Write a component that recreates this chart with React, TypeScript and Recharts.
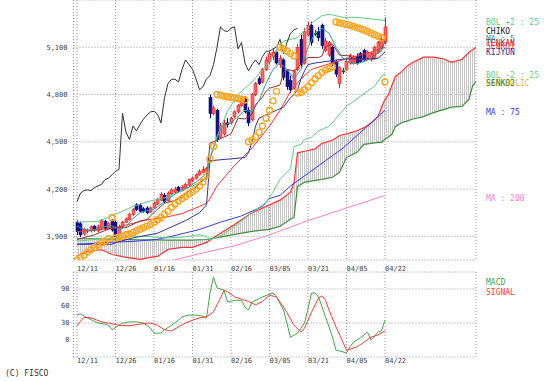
import { ComposedChart, Line, Area, Bar, Scatter, XAxis, YAxis, CartesianGrid } from 'recharts';

const FONT = '"DejaVu Sans Mono", monospace';

// x axis labels, placed every 11 sessions
const dates = ['12/11', '12/26', '01/16', '01/31', '02/16', '03/05', '03/21', '04/05', '04/22'];
const dateIdx = [0, 11, 22, 33, 44, 55, 66, 77, 88];
const priceTicks = [3900, 4200, 4500, 4800, 5100];
const macdTicks = [0, 30, 60, 90];

// daily candles: open, high, low, close
const candles: [number, number, number, number][] = [
  [3990, 4000, 3910, 3930], [3980, 3995, 3895, 3910], [3915, 3955, 3905, 3945], [3935, 3950, 3920, 3940],
  [3935, 3970, 3925, 3960], [3965, 3972, 3930, 3940], [3935, 3975, 3925, 3960], [3950, 4010, 3945, 4000],
  [3995, 4005, 3940, 3950], [3950, 3990, 3945, 3980], [4000, 4010, 3930, 3940], [3990, 4000, 3885, 3900],
  [3910, 3975, 3900, 3960], [3960, 4000, 3950, 3990], [3990, 4020, 3985, 4010], [4005, 4050, 4000, 4040],
  [4040, 4080, 4030, 4070], [4100, 4110, 4060, 4070], [4095, 4110, 4050, 4060], [4075, 4085, 4050, 4060],
  [4080, 4090, 4040, 4050], [4055, 4090, 4050, 4080], [4080, 4120, 4075, 4110], [4105, 4145, 4100, 4135],
  [4130, 4180, 4125, 4165], [4160, 4175, 4110, 4120], [4125, 4185, 4120, 4175], [4170, 4205, 4165, 4195],
  [4180, 4215, 4175, 4200], [4210, 4220, 4180, 4190], [4190, 4225, 4185, 4210], [4205, 4240, 4200, 4230],
  [4225, 4265, 4220, 4260], [4255, 4280, 4245, 4270], [4270, 4300, 4260, 4290], [4290, 4325, 4285, 4313],
  [4305, 4345, 4300, 4325], [4310, 4340, 4300, 4330], [4780, 4800, 4650, 4680], [4680, 4730, 4670, 4715],
  [4700, 4710, 4500, 4515], [4530, 4620, 4520, 4600], [4550, 4640, 4540, 4620], [4620, 4650, 4590, 4610],
  [4620, 4660, 4610, 4650], [4660, 4700, 4650, 4690], [4690, 4740, 4680, 4730], [4730, 4780, 4720, 4760],
  [4770, 4790, 4680, 4690], [4700, 4720, 4600, 4620], [4640, 4810, 4630, 4800], [4800, 4880, 4790, 4870],
  [4900, 4915, 4860, 4870], [4880, 4970, 4870, 4960], [4960, 5040, 4950, 5020], [5010, 5080, 4990, 5060],
  [5040, 5090, 5020, 5070], [5070, 5080, 4990, 5000], [4990, 5050, 4970, 5030], [5020, 5030, 4890, 4910],
  [4950, 4960, 4830, 4850], [4890, 4920, 4810, 4830], [4840, 4960, 4830, 4950], [4960, 5120, 4950, 5100],
  [5150, 5180, 4970, 4990], [5000, 5220, 4990, 5200], [5180, 5260, 5170, 5240], [5240, 5260, 5110, 5130],
  [5190, 5210, 5170, 5190], [5200, 5230, 5140, 5160], [5240, 5250, 5090, 5110], [5080, 5160, 5070, 5140],
  [5050, 5140, 5040, 5130], [5100, 5110, 4980, 4990], [5010, 5020, 4910, 4930], [4870, 4980, 4840, 4970],
  [4950, 4970, 4930, 4950], [4960, 5030, 4950, 5010], [5000, 5060, 4990, 5050], [5000, 5050, 4990, 5040],
  [5040, 5060, 4990, 5000], [5060, 5070, 5000, 5010], [5080, 5090, 5010, 5020], [5030, 5080, 5020, 5070],
  [5020, 5070, 5010, 5060], [5030, 5110, 5020, 5100], [5070, 5140, 5060, 5130], [5100, 5170, 5090, 5150],
  [5130, 5290, 5120, 5230],
];

// lagging span, starts at the first session
const chiko = [
  4120, 4175, 4190, 4195, 4190, 4210, 4220, 4230, 4260, 4270, 4290, 4313, 4325, 4680, 4560, 4515,
  4600, 4570, 4610, 4645, 4670, 4690, 4694, 4675, 4620, 4780, 4870, 4897, 4897, 4880, 4960, 5020,
  4990, 4960, 4900, 4830, 4850, 4900, 4920, 4990, 5100, 5230, 5205, 5200, 5220, 5230, 5090, 5130,
  5000, 4950, 4990, 5020, 4990, 5040, 5075, 5075, 5090, 5100, 5150, 5060, 5130, 5190, 5210, 5220,
];

const parabolic = [
  3750, 3765, 3780, 3800, 3815, 3830, 3845, 3860, 3870, 3885, 4020, 3890, 3895, 3900, 3910, 3915,
  3925, 3935, 3945, 3955, 3965, 3975, 3990, 4005, 4020, 4040, 4060, 4085, 4105, 4125, 4140, 4155,
  4170, 4185, 4200, 4220, 4245, 4290, 4390, 4470, 4800, 4795, 4790, 4786, 4782, 4778, 4774, 4770,
  4765, 4500, 4510, 4530, 4560, 4600, 4650, 4700, 4760, 4820, 5100, 5090, 5075, 5060, 5045, 4810,
  4815, 4830, 4850, 4875, 4900, 4920, 4940, 4955, 4965, 4975, 5260, 5255, 5250, 5245, 5240, 5232,
  5225, 5218, 5210, 5200, 5190, 5180, 5170, 5160, 4880,
];

// line vertices as [session, value]
const bolUp: [number, number][] = [
  [0, 3990], [6, 3995], [11, 4040], [16, 4090], [21, 4125], [26, 4150], [31, 4200], [36, 4250], [37, 4270],
  [38, 4400], [39, 4470], [40, 4535], [43, 4695], [46, 4800], [50, 4880], [54, 4980], [58, 5105], [59, 5140],
  [63, 5160], [66, 5230], [68, 5270], [70, 5300], [72, 5310], [76, 5290], [80, 5290], [84, 5280], [88, 5270],
];
const bolDn: [number, number][] = [
  [0, 3870], [5, 3880], [10, 3890], [15, 3900], [20, 3900], [25, 3890], [30, 3895], [35, 3910], [37, 3900],
  [38, 3880], [41, 3900], [45, 3965], [50, 4050], [54, 4116], [56, 4180], [58, 4262], [61, 4330], [62, 4470],
  [64, 4484], [65, 4516], [67, 4529], [69, 4570], [72, 4598], [77, 4725], [81, 4789], [85, 4852], [87, 4916],
  [88, 4929],
];
const ma25: [number, number][] = [
  [0, 3930], [10, 3950], [20, 4005], [25, 4020], [30, 4045], [35, 4090], [37, 4110], [38, 4140], [40, 4220],
  [45, 4350], [50, 4460], [55, 4600], [58, 4700], [61, 4820], [64, 4900], [67, 4960], [72, 4995], [76, 5020],
  [80, 5045], [84, 5070], [88, 5100],
];
const ma5: [number, number][] = [
  [0, 3965], [2, 3945], [4, 3937], [6, 3949], [8, 3962], [10, 3966], [12, 3946], [14, 3960], [16, 4014],
  [18, 4050], [20, 4062], [22, 4072], [24, 4104], [26, 4138], [28, 4168], [30, 4192], [32, 4213], [34, 4244],
  [36, 4280], [37, 4300], [38, 4390], [39, 4460], [40, 4520], [41, 4580], [42, 4610], [44, 4620], [46, 4660],
  [48, 4700], [50, 4690], [52, 4760], [54, 4870], [56, 4960], [58, 5000], [60, 4960], [62, 4900], [64, 4960],
  [66, 5100], [68, 5190], [70, 5220], [72, 5190], [74, 5100], [76, 5030], [78, 5000], [80, 4995], [82, 5010],
  [84, 5030], [86, 5070], [88, 5130],
];
const tenkan: [number, number][] = [
  [0, 3880], [5, 3910], [10, 3955], [14, 3955], [18, 3998], [20, 4005], [21, 4030], [23, 4072], [25, 4110],
  [28, 4128], [30, 4150], [32, 4188], [34, 4210], [36, 4260], [37, 4262], [38, 4492], [40, 4510], [42, 4530],
  [44, 4550], [46, 4650], [48, 4645], [50, 4675], [51, 4735], [53, 4785], [54, 4820], [55, 4840], [58, 4860],
  [59, 4940], [60, 4960], [62, 4950], [63, 4965], [64, 4995], [66, 5035], [69, 5035], [70, 5045], [71, 5105],
  [73, 5120], [74, 5085], [75, 5050], [78, 5045], [79, 5020], [83, 5020], [84, 5030], [86, 5065], [87, 5080],
  [88, 5140],
];
const kijun: [number, number][] = [
  [0, 3850], [10, 3850], [11, 3860], [16, 3890], [23, 3920], [31, 4000], [35, 4050], [37, 4100], [38, 4380],
  [48, 4400], [49, 4430], [50, 4500], [51, 4600], [52, 4650], [56, 4690], [59, 4720], [61, 4780], [62, 4800],
  [63, 4830], [64, 4900], [65, 4950], [66, 4990], [68, 5000], [76, 5025], [86, 5030], [87, 5050], [88, 5070],
];
const ma75: [number, number][] = [
  [0, 3850], [9, 3862], [16, 3868], [23, 3881], [27, 3900], [35, 3944], [41, 3990], [47, 4030], [53, 4090],
  [55, 4140], [58, 4160], [61, 4220], [66, 4300], [71, 4380], [76, 4460], [80, 4540], [84, 4620], [88, 4700],
];
const ma200: [number, number][] = [
  [26, 3740], [35, 3790], [45, 3840], [55, 3910], [66, 4000], [77, 4080], [88, 4160],
];

// ichimoku cloud, drawn 26 sessions ahead
const senkouIdx = [
  0, 3, 7, 10, 14, 18, 21, 23, 26, 30, 33, 37, 41, 45, 50, 55, 58, 61, 62, 63, 65, 68, 70, 73, 75, 77, 80,
  82, 84, 86, 87, 88, 89, 90, 91, 93, 94, 96, 99, 102, 105, 107, 110, 112, 113, 114,
];
const senkou1 = [
  3775, 3805, 3815, 3785, 3767, 3754, 3767, 3773, 3817, 3830, 3830, 3862, 3920, 3975, 4050, 4100, 4130,
  4180, 4240, 4430, 4440, 4455, 4490, 4510, 4540, 4550, 4570, 4590, 4620, 4660, 4720, 4770, 4800, 4860,
  4915, 4950, 4975, 5005, 5037, 5037, 5024, 5005, 5024, 5068, 5085, 5100,
];
const senkou2 = [
  3885, 3885, 3885, 3883, 3880, 3878, 3878, 3878, 3876, 3876, 3876, 3880, 3895, 3913, 3932, 3944, 3964,
  4008, 4020, 4215, 4243, 4255, 4262, 4275, 4306, 4400, 4433, 4484, 4490, 4497, 4497, 4516, 4530, 4548,
  4598, 4624, 4630, 4645, 4660, 4687, 4706, 4720, 4725, 4770, 4852, 4884,
];

const macd: [number, number][] = [
  [0, 44], [1, 46], [3, 39], [6, 30], [8, 28], [9, 26], [10, 18], [12, 26], [13, 30], [15, 32], [17, 32],
  [19, 30], [21, 21], [22, 12], [24, 12], [25, 18], [27, 26], [29, 35], [30, 41], [32, 44], [34, 44], [36, 42],
  [37, 39], [38, 83], [39, 111], [40, 92], [42, 88], [43, 67], [45, 70], [47, 70], [48, 58], [49, 53], [50, 67],
  [53, 76], [56, 83], [57, 76], [59, 53], [61, 5], [63, 12], [65, 30], [66, 55], [67, 83], [68, 83], [69, 76],
  [71, 41], [72, 23], [73, 5], [74, -18], [76, -21], [77, -23], [78, -12], [79, -4], [81, 4], [83, 14], [84, 0],
  [86, 14], [87, 16], [88, 35],
];
const signal: [number, number][] = [
  [0, 25], [1, 33], [2, 40], [4, 39], [7, 32], [9, 30], [12, 26], [15, 25], [18, 28], [21, 30], [23, 26],
  [25, 18], [27, 16], [29, 23], [31, 30], [33, 35], [35, 39], [37, 41], [38, 45], [39, 50], [40, 62], [41, 74],
  [42, 88], [43, 85], [45, 76], [47, 72], [49, 68], [51, 62], [53, 68], [55, 79], [57, 76], [59, 58], [60, 48],
  [62, 26], [64, 14], [65, 21], [67, 49], [69, 74], [70, 78], [71, 70], [72, 53], [74, 23], [76, -4], [77, -18],
  [80, -12], [82, -4], [84, 5], [86, 9], [88, 16],
];

const legend = [
  { t: 'BOL +2 : 25', c: '#5ccf85', y: 25 },
  { t: 'CHIKO', c: '#222222', y: 34 },
  { t: 'MA : 5', c: '#2f9f9f', y: 42 },
  { t: 'TENKAN', c: '#993333', y: 46 },
  { t: 'SENKO1', c: '#ff3333', y: 49 },
  { t: 'KIJYUN', c: '#333399', y: 55 },
  { t: 'BOL -2 : 25', c: '#5ccf85', y: 78 },
  { t: 'PARABOLIC', c: '#ffaa33', y: 86 },
  { t: 'SENKO2', c: '#3c8f3c', y: 86 },
  { t: 'MA : 75', c: '#3a3aff', y: 115 },
  { t: 'MA : 200', c: '#ff80c8', y: 201 },
  { t: 'MACD', c: '#44a844', y: 285 },
  { t: 'SIGNAL', c: '#ff3b3b', y: 295 },
];

type Row = { i: number; [k: string]: number | undefined };

const rows: Row[] = Array.from({ length: 115 }, (_, i) => ({ i }));
candles.forEach(([o, h, l, c], i) => Object.assign(rows[i], { o, h, l, c }));
chiko.forEach((v, j) => (rows[j].chiko = v));
senkouIdx.forEach((k, n) => {
  rows[k].s1 = senkou1[n];
  rows[k].s2 = senkou2[n];
});
const put = (list: Row[], key: string, pts: [number, number][]) => pts.forEach(([i, v]) => (list[i][key] = v));
put(rows, 'bolUp', bolUp);
put(rows, 'bolDn', bolDn);
put(rows, 'ma25', ma25);
put(rows, 'ma5', ma5);
put(rows, 'tenkan', tenkan);
put(rows, 'kijun', kijun);
put(rows, 'ma75', ma75);
put(rows, 'ma200', ma200);

const sarRows = parabolic.map((v, i) => ({ i, sar: v }));

const macdRows: Row[] = Array.from({ length: 89 }, (_, i) => ({ i }));
put(macdRows, 'macd', macd);
put(macdRows, 'signal', signal);

const Candle = (props: any) => {
  const { x, y, width, height, payload } = props;
  if (!payload || payload.o == null) return null;
  const { o, h, l, c } = payload;
  const top = Math.min(y, y + height);
  const span = Math.abs(height);
  const py = (v: number) => top + ((h - v) / (h - l)) * span;
  const flat = c === o;
  const up = c > o;
  const stroke = flat ? '#006600' : up ? '#e82020' : '#000080';
  const fill = flat ? '#006600' : up ? '#ff6464' : '#14148c';
  const cx = Math.round(x + width / 2) + 0.5;
  const bt = py(Math.max(o, c));
  const bb = py(Math.min(o, c));
  return (
    <g>
      <line x1={cx} x2={cx} y1={top} y2={top + span} stroke={stroke} strokeWidth={1} />
      <rect x={cx - 1.5} y={bt} width={3} height={Math.max(bb - bt, 1)} fill={fill} stroke={stroke} strokeWidth={0.6} />
    </g>
  );
};

const Ring = (props: any) => (
  <circle cx={props.cx} cy={props.cy} r={3} fill="none" stroke="#ffa31a" strokeWidth={1.4} />
);

const dateTick = (dy: number) => (props: any) => {
  const { x, y, payload } = props;
  return (
    <text x={x} y={y + dy} fontSize={7} fontFamily={FONT} fill="#444">
      {dates[dateIdx.indexOf(payload.value)]}
    </text>
  );
};

const line = (key: string, color: string, width = 1) => (
  <Line
    key={key}
    dataKey={key}
    stroke={color}
    strokeWidth={width}
    dot={false}
    connectNulls
    isAnimationActive={false}
    type="linear"
  />
);

export default function App() {
  return (
    <div style={{ position: 'absolute', left: 0, top: 0, width: 557, height: 381, background: '#fff' }}>
      <div style={{ position: 'absolute', left: 0, top: 0 }}>
        <ComposedChart width={557} height={275} data={rows} margin={{ top: 0, right: 81, bottom: 0, left: 0 }}>
          <defs>
            <pattern id="hatch" width="2" height="4" patternUnits="userSpaceOnUse">
              <rect x="0" y="0" width="1" height="4" fill="#c4c4c4" />
            </pattern>
          </defs>
          <CartesianGrid stroke="#999" strokeDasharray="1 2" />
          <XAxis
            type="number"
            dataKey="i"
            domain={[-1, 114]}
            ticks={dateIdx}
            allowDataOverflow
            axisLine={false}
            tickLine={false}
            tickSize={0}
            tickMargin={0}
            height={15}
            tick={dateTick(11)}
            interval={0}
          />
          <YAxis
            domain={[3750, 5400]}
            ticks={priceTicks}
            allowDataOverflow
            axisLine={false}
            tickLine={false}
            tickSize={0}
            tickMargin={6}
            width={73.5}
            tick={{ fontSize: 7, fontFamily: FONT, fill: '#444' }}
            tickFormatter={(v: number) => v.toLocaleString('en-US')}
          />
          <Area
            dataKey={(d: Row) => (d.s1 == null ? undefined : [d.s2, d.s1])}
            stroke="none"
            fill="url(#hatch)"
            fillOpacity={1}
            connectNulls
            isAnimationActive={false}
            type="linear"
          />
          {line('s1', '#ff3333', 1.2)}
          {line('s2', '#3c8f3c', 1.2)}
          {line('ma200', '#ff80c8')}
          {line('ma75', '#3a3aff')}
          {line('bolUp', '#5ccf85')}
          {line('bolDn', '#5ccf85')}
          {line('ma25', '#ff3333')}
          {line('kijun', '#333399')}
          {line('tenkan', '#993333')}
          {line('ma5', '#2f9f9f')}
          {line('chiko', '#333333')}
          <Bar
            dataKey={(d: Row) => (d.h == null ? undefined : [d.l, d.h])}
            barSize={3}
            shape={Candle}
            isAnimationActive={false}
          />
          <Scatter data={sarRows} dataKey="sar" shape={Ring} isAnimationActive={false} />
        </ComposedChart>
      </div>
      <div style={{ position: 'absolute', left: 0, top: 262 }}>
        <ComposedChart width={557} height={108} data={macdRows} margin={{ top: 10, right: 81, bottom: 0, left: 0 }}>
          <CartesianGrid stroke="#999" strokeDasharray="1 2" />
          <XAxis
            type="number"
            dataKey="i"
            domain={[-1, 114]}
            ticks={dateIdx}
            allowDataOverflow
            axisLine={false}
            tickLine={false}
            tickSize={0}
            tickMargin={0}
            height={13}
            tick={dateTick(6)}
            interval={0}
          />
          <YAxis
            domain={[-30, 120]}
            ticks={macdTicks}
            allowDataOverflow
            axisLine={false}
            tickLine={false}
            tickSize={0}
            tickMargin={4}
            width={73.5}
            tick={{ fontSize: 7, fontFamily: FONT, fill: '#444' }}
          />
          {line('macd', '#44a844')}
          {line('signal', '#ff3b3b')}
        </ComposedChart>
      </div>
      <svg width={557} height={381} style={{ position: 'absolute', left: 0, top: 0, pointerEvents: 'none' }}>
        {legend.map((l) => (
          <text key={l.t} x={486} y={l.y} fontSize={8} fontFamily={FONT} fill={l.c}>
            {l.t}
          </text>
        ))}
        <text x={5} y={376} fontSize={8} fontFamily={FONT} fill="#333">
          (C) FISCO
        </text>
      </svg>
    </div>
  );
}
